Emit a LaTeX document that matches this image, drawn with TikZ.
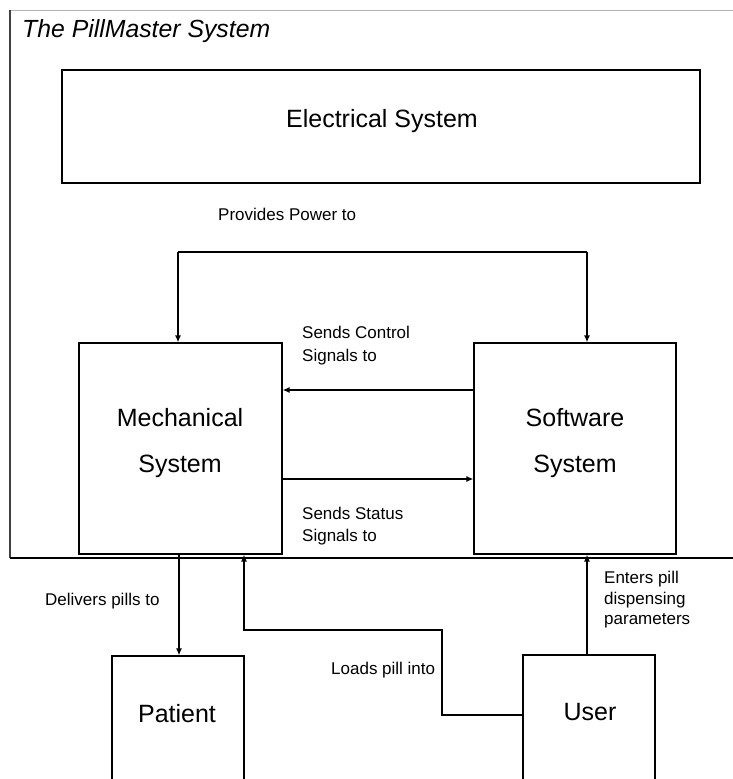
\documentclass[tikz,border=0pt]{standalone}
\usepackage{fontspec}
\setmainfont{Liberation Sans}
\usetikzlibrary{arrows.meta}
\begin{document}
\begin{tikzpicture}[x=1pt,y=-1pt,
  box/.style={draw=black, line width=1.2pt, inner sep=0pt, fill=none},
  arr/.style={line width=1.4pt, -{Latex[length=7pt,width=6pt]}},
  conn/.style={line width=1.4pt},
  big/.style={font=\fontsize{25}{46}\selectfont, align=center, inner sep=0pt},
  small/.style={font=\fontsize{17}{22}\selectfont, align=left, inner sep=0pt, anchor=west}]
\useasboundingbox (0,0) rectangle (733,779);
\clip (0,0) rectangle (733,779);
% frame
\draw[black!30, line width=1pt] (10,10) -- (733,10);
\draw[black!75, line width=1.2pt] (10,10) -- (10,558);
\draw[line width=2.2pt] (10,558) -- (733,558);
\node[anchor=base west, inner sep=0pt, font=\fontsize{24.8}{30}\selectfont\itshape] (title) at (22,37) {The PillMaster System};
% boxes
\node[box, minimum width=638pt, minimum height=113pt] (elec) at (381,126.5) {};
\node[box, minimum width=203pt, minimum height=211pt] (mech) at (180.5,448.5) {};
\node[box, minimum width=202pt, minimum height=211pt] (soft) at (575,448.5) {};
\node[box, minimum width=132pt, minimum height=150pt] (patient) at (178,731) {};
\node[box, minimum width=132pt, minimum height=150pt] (user) at (589,730) {};
% box texts
\node[big] (elect) at (382,121) {Electrical System};
\node[big] (mecht) at (180,443) {Mechanical\\System};
\node[big] (softt) at (575,443) {Software\\System};
\node[big] (patt) at (177,714) {Patient};
\node[big] (usert) at (590,712) {User};
% helper coordinates
\coordinate (pl) at (178,252);
\coordinate (pr) at (587,252);
\coordinate (yc) at (0,390);
\coordinate (ys) at (0,479);
\coordinate (xd) at (179,0);
\coordinate (xl) at (244,0);
\coordinate (yl) at (0,715);
\coordinate (lk) at (442,630);
\coordinate (xe) at (587,0);
% connectors
\draw[conn] (pl) -- (pr);
\draw[arr] (pl) -- (pl |- mech.north);
\draw[arr] (pr) -- (pr |- soft.north);
\draw[arr] (soft.west |- yc) -- (mech.east |- yc);
\draw[arr] (mech.east |- ys) -- (soft.west |- ys);
\draw[arr] (mech.south -| xd) -- (patient.north -| xd);
\draw[arr] (user.west |- yl) -| (lk) -| (mech.south -| xl);
\draw[arr] (user.north -| xe) -- (soft.south -| xe);
% labels
\node[small] (lpow) at (218,214) {Provides Power to};
\node[small, font=\fontsize{17}{23}\selectfont] (lctl) at (302,346) {Sends Control\\Signals to};
\node[small] (lsta) at (302,526) {Sends Status\\Signals to};
\node[small] (ldel) at (45,601) {Delivers pills to};
\node[small] (lload) at (331,670) {Loads pill into};
\node[small, font=\fontsize{17}{20.5}\selectfont] (lent) at (604,600) {Enters pill\\dispensing\\parameters};
\end{tikzpicture}
\end{document}
